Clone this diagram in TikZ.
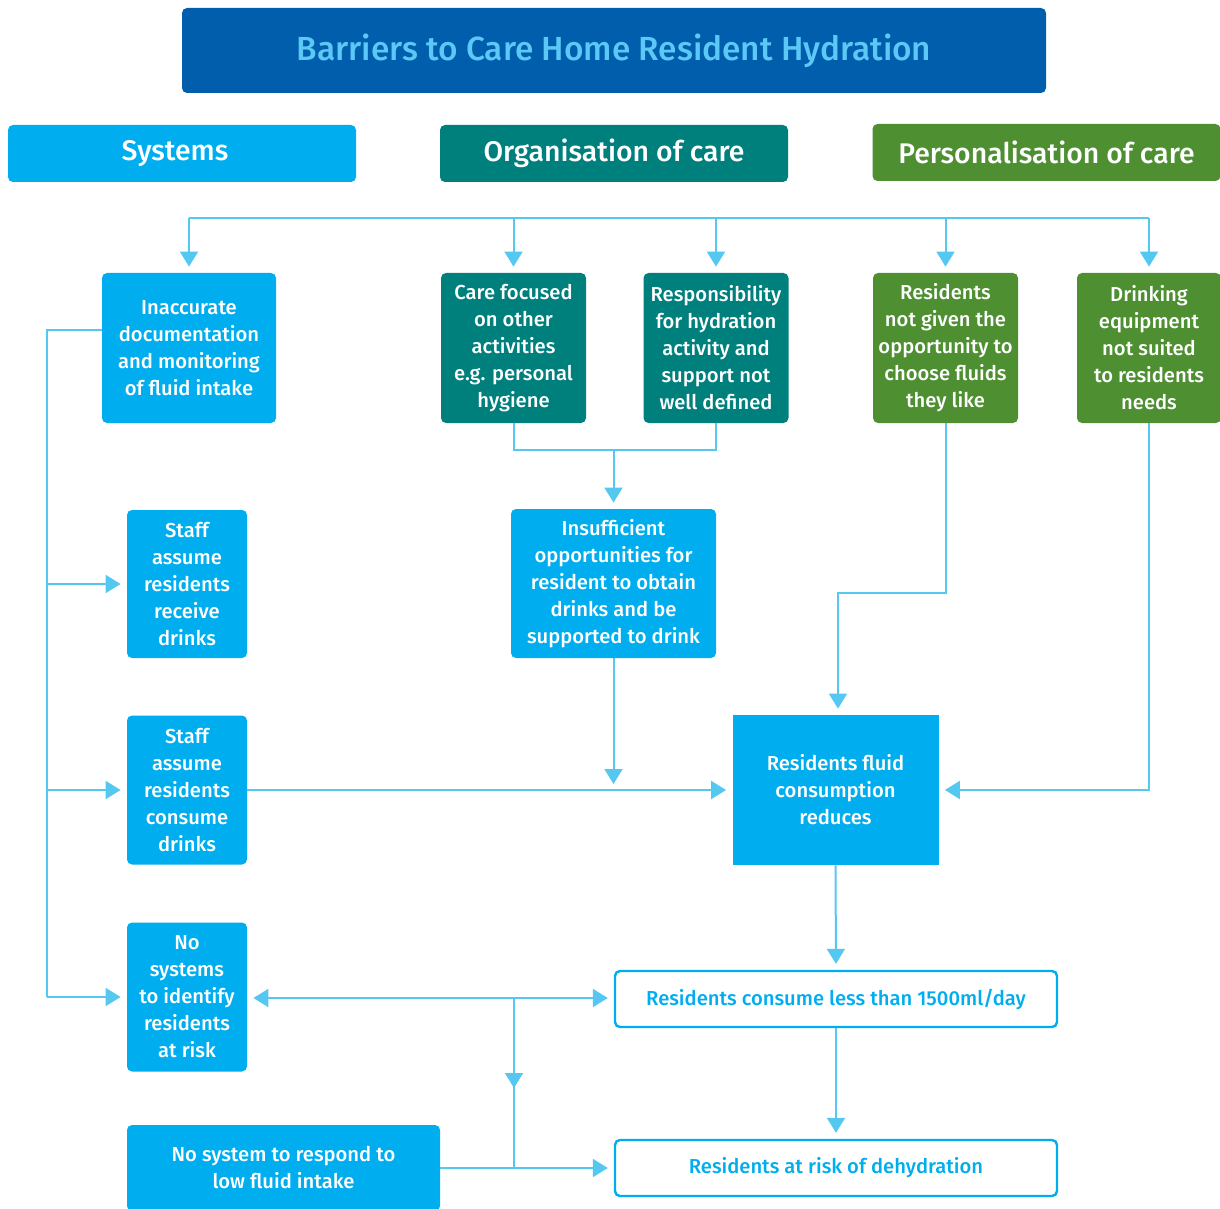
\documentclass[tikz,border=0pt]{standalone}
\usepackage{fontspec}
\setmainfont{Fira Sans}[UprightFont={* Medium},BoldFont={* SemiBold}]
\usetikzlibrary{arrows.meta}

\definecolor{titleblue}{HTML}{005EAD}
\definecolor{titletext}{HTML}{5BC8F5}
\definecolor{sysblue}{HTML}{00AEEF}
\definecolor{orgteal}{HTML}{00807D}
\definecolor{pergreen}{HTML}{4E8F31}
\definecolor{linkblue}{HTML}{55C8F2}

\tikzset{
	box/.style={rounded corners=2.5pt, text=white, align=center, inner sep=0pt, font=\fontsize{10.1}{13.5}\selectfont},
	sysbox/.style={box, fill=sysblue},
	orgbox/.style={box, fill=orgteal},
	perbox/.style={box, fill=pergreen},
	headbox/.style={box, minimum width=174pt, minimum height=28.5pt, font=\fontsize{14.2}{16}\selectfont},
	outbox/.style={box, fill=white, draw=sysblue, line width=1.2pt, text=sysblue, minimum width=221pt, minimum height=28pt},
	line/.style={draw=linkblue, line width=1pt},
	arr/.style={line, -{Triangle[length=7.5pt,width=9pt]}, shorten >=3pt},
	arrboth/.style={line, {Triangle[length=7.5pt,width=9pt]}-{Triangle[length=7.5pt,width=9pt]}, shorten >=3pt, shorten <=3pt}
}

\begin{document}
\begin{tikzpicture}[x=0.5pt,y=-0.5pt]
	\useasboundingbox (0,0) rectangle (1220,1209);

	% title and the three headings
	\node[box, fill=titleblue, text=titletext, minimum width=432pt, minimum height=42.5pt, font=\fontsize{16.7}{19}\selectfont] (title) at (614,50.5) {Barriers to Care Home Resident Hydration};
	\node[headbox, fill=sysblue] (systems) at (182,153.5) {\hspace*{-7pt}Systems};
	\node[headbox, fill=orgteal] (organisation) at (614,153.5) {Organisation of care};
	\node[headbox, fill=pergreen] (personal) at (1046.5,152.5) {Personalisation of care};

	% first row of barriers
	\node[sysbox, minimum width=87pt, minimum height=75pt] (inacc) at (189,348) {Inaccurate\\documentation\\and monitoring\\of fluid intake};
	\node[orgbox, minimum width=72.5pt, minimum height=75pt] (carefoc) at (513.5,348) {Care focused\\on other\\activities\\e.g. personal\\hygiene};
	\node[orgbox, minimum width=72.5pt, minimum height=75pt] (resp) at (716,348) {Responsibility\\for hydration\\activity and\\support not\\well defined};
	\node[perbox, minimum width=72.5pt, minimum height=75pt] (notgiven) at (945.5,348) {Residents\\not given the\\opportunity to\\choose fluids\\they like};
	\node[perbox, minimum width=72pt, minimum height=75pt] (drinking) at (1149,348) {Drinking\\equipment\\not suited\\to residents\\needs};

	% systems column
	\node[sysbox, minimum width=60pt, minimum height=74pt] (staffrec) at (187,584) {Staff\\assume\\residents\\receive\\drinks};
	\node[sysbox, minimum width=60pt, minimum height=74.5pt] (staffcon) at (187,790) {Staff\\assume\\residents\\consume\\drinks};
	\node[sysbox, minimum width=60pt, minimum height=74.5pt] (noident) at (187,997) {No\\systems\\to identify\\residents\\at risk};
	\node[sysbox, minimum width=156.5pt, minimum height=43pt] (respond) at (283.5,1168) {No system to respond to\\low fluid intake};

	% middle and outcomes
	\node[sysbox, minimum width=102.5pt, minimum height=74.5pt] (insuff) at (613.5,583.5) {Insufficient\\opportunities for\\resident to obtain\\drinks and be\\supported to drink};
	\node[sysbox, rounded corners=0pt, minimum width=103pt, minimum height=75pt] (reduces) at (835.5,790) {Residents fluid\\consumption\\reduces};
	\node[outbox] (less) at (836,999) {Residents consume less than 1500ml/day};
	\node[outbox] (atrisk) at (836,1168) {Residents at risk of dehydration};

	% helper points
	\coordinate (busL) at (189,218);
	\coordinate (busR) at (1149,218);
	\coordinate (rail) at (47,330);
	\coordinate (merge) at (613.5,450);
	\coordinate (bend) at (838,593);
	\coordinate (jn) at (514,998);
	\coordinate (midarr) at (514,1088);

	% connectors
	\draw[line] (busL) -- (busR);
	\foreach \n in {inacc,carefoc,resp,notgiven,drinking}
		\draw[arr] (\n.north |- busL) -- (\n.north);

	\draw[line] (inacc.west |- rail) -- (rail) -- (rail |- noident.west);
	\foreach \n in {staffrec,staffcon,noident}
		\draw[arr] (rail |- \n.west) -- (\n.west);

	\draw[line] (carefoc.south) -- (carefoc.south |- merge) -- (resp.south |- merge) -- (resp.south);
	\draw[arr] (merge) -- (insuff.north);
	\draw[arr] (insuff.south) -- (insuff.south |- reduces.west);
	\draw[arr] (staffcon.east) -- (reduces.west);
	\draw[arr] (notgiven.south) -- (notgiven.south |- bend) -- (bend) -- (bend |- reduces.north);
	\draw[arr] (drinking.south) |- (reduces.east);
	\draw[arr] (reduces.south) -- (less.north);
	\draw[arr] (less.south) -- (atrisk.north);

	\draw[arrboth] (noident.east |- jn) -- (less.west |- jn);
	\draw[line] (jn) -- (jn |- respond.east);
	\draw[arr, shorten >=0pt] (jn) -- (midarr);
	\draw[arr] (respond.east) -- (atrisk.west);
\end{tikzpicture}
\end{document}
